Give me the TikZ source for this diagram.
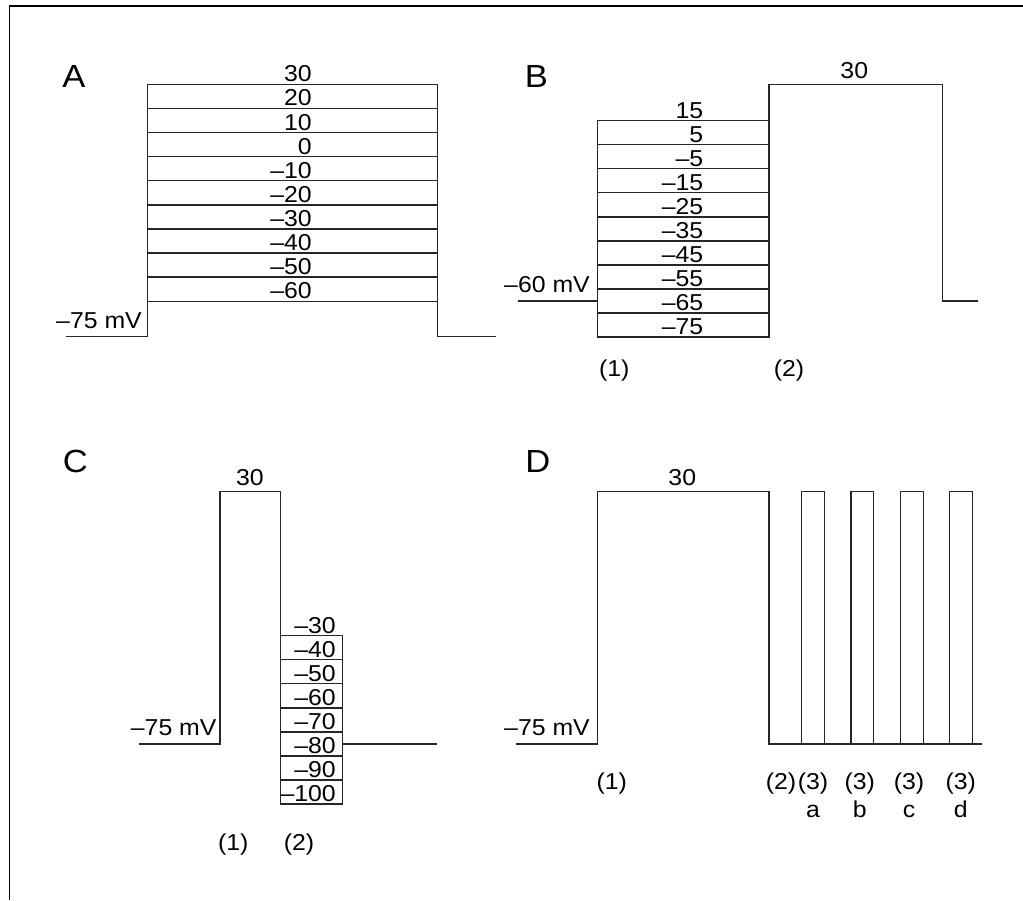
\documentclass[tikz,border=0pt]{standalone}
\usepackage{fontspec}
\setmainfont{Liberation Sans}[FakeStretch=1.08]
\tikzset{
  wave/.style={line width=1.4pt, draw=black!85},
  frame/.style={line width=1.2pt, draw=black},
  lbl/.style={font=\fontsize{23}{27}\selectfont, inner sep=0pt, text=black},
  panel/.style={font=\fontsize{32}{38}\selectfont, inner sep=0pt, anchor=base, text=black}
}
\begin{document}
\begin{tikzpicture}[x=1pt,y=-1pt]
\useasboundingbox (0,0) rectangle (1023,900);
% frame
\draw[frame] (9.3,900) -- (9.3,6) -- (1023,6);

% ---------- Panel A ----------
\node[panel] (pA) at (74,87) {A};
\draw[wave] (66,336.7) -- (147.3,336.7) -- (147.3,84.3) -- (437.3,84.3) -- (437.3,336.7) -- (496,336.7);
\foreach \k in {1,...,9}
  \draw[wave] (147.3,{84.3+24.1*\k}) -- (437.3,{84.3+24.1*\k});
\foreach \v [count=\k from 0] in {30,20,10,0,–10,–20,–30,–40,–50,–60}
  \node[lbl,anchor=base east] (A\k) at (312,{84.3+24.1*\k-2.5}) {\v};
\node[lbl,anchor=base east] (Abase) at (142,328.5) {–75 mV};

% ---------- Panel B ----------
\node[panel] (pB) at (536.3,87) {B};
\draw[wave] (518.3,301) -- (597.7,301);
\draw[wave] (597.7,120.7) rectangle (769,337);
\foreach \k in {1,...,8}
  \draw[wave] (597.7,{120.7+24.03*\k}) -- (769,{120.7+24.03*\k});
\draw[wave] (769,120.7) -- (769,84.3) -- (942.3,84.3) -- (942.3,301) -- (978.3,301);
\foreach \v [count=\k from 0] in {15,5,–5,–15,–25,–35,–45,–55,–65,–75}
  \node[lbl,anchor=base east] (B\k) at (703.5,{120.7+24.03*\k-2.5}) {\v};
\node[lbl,anchor=base east] (Bbase) at (590,292) {–60 mV};
\node[lbl,anchor=base] (Btop) at (854.3,78.5) {30};
\node[lbl,anchor=base] (B1) at (614.3,376.7) {(1)};
\node[lbl,anchor=base] (B2) at (789,376.7) {(2)};

% ---------- Panel C ----------
\node[panel] (pC) at (75.3,472) {C};
\draw[wave] (139,744) -- (220,744) -- (220,491.7) -- (280.3,491.7) -- (280.3,635.7);
\draw[wave] (280.3,635.7) rectangle (342.3,804);
\foreach \k in {1,...,6}
  \draw[wave] (280.3,{635.7+24.04*\k}) -- (342.3,{635.7+24.04*\k});
\draw[wave] (342.3,744) -- (436.7,744);
\foreach \v [count=\k from 0] in {–30,–40,–50,–60,–70,–80,–90,–100}
  \node[lbl,anchor=base east] (C\k) at (336,{635.7+24.04*\k-2.5}) {\v};
\node[lbl,anchor=base east] (Cbase) at (216.7,735.7) {–75 mV};
\node[lbl,anchor=base] (Ctop) at (250,485) {30};
\node[lbl,anchor=base] (C1) at (233.3,850) {(1)};
\node[lbl,anchor=base] (C2) at (299,850) {(2)};

% ---------- Panel D ----------
\node[panel] (pD) at (537.8,472) {D};
\draw[wave] (516,744) -- (597.7,744) -- (597.7,491.7) -- (769,491.7) -- (769,744) -- (981.7,744);
\foreach \a/\b in {801.7/824.3, 851/873.7, 900.3/923.3, 949.7/972.3}
  \draw[wave] (\a,744) -- (\a,491.7) -- (\b,491.7) -- (\b,744);
\node[lbl,anchor=base east] (Dbase) at (590,735.7) {–75 mV};
\node[lbl,anchor=base] (Dtop) at (682.3,485) {30};
\node[lbl,anchor=base] (D1) at (611.7,789.3) {(1)};
\node[lbl,anchor=base] (D2) at (781,789.3) {(2)};
\foreach \x/\l [count=\k] in {813/a, 859.7/b, 909/c, 960.7/d}{
  \node[lbl,anchor=base] (D3\k) at (\x,789.3) {(3)};
  \node[lbl,anchor=base] (Dl\k) at (\x,817.3) {\l};
}
\end{tikzpicture}
\end{document}
